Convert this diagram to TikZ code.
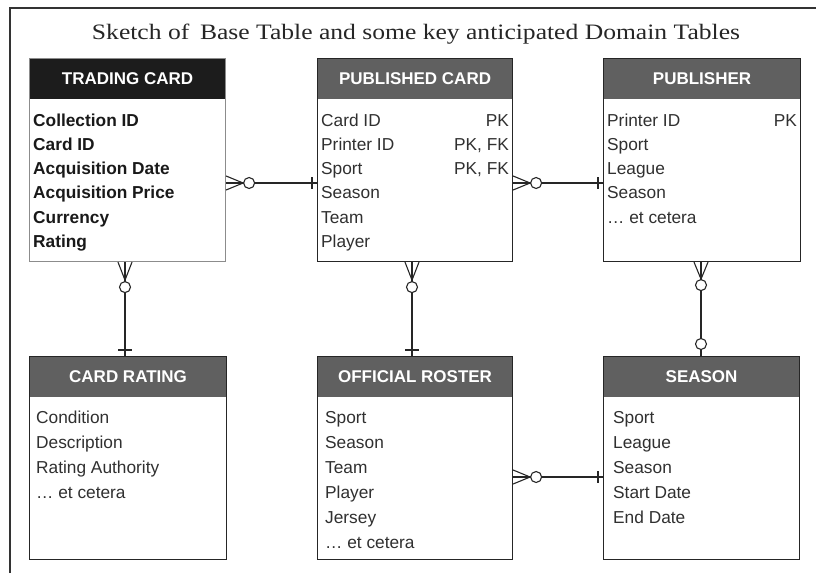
\documentclass[tikz,border=0pt]{standalone}
\usepackage{fontspec}
\usepackage{graphicx}
\setmainfont{Liberation Serif}
\newfontfamily\arialf{Liberation Sans}
\usetikzlibrary{calc}
\definecolor{hdrgray}{HTML}{606060}
\definecolor{hdrblack}{HTML}{1C1C1C}
\definecolor{bodytxt}{HTML}{303030}
\tikzset{
  tbl/.style={draw=black!85, line width=1.1pt, fill=white, inner sep=0pt,
    minimum width=#1, minimum height=203pt, anchor=north west},
  tblhead/.style={path picture={\fill[#1] (path picture bounding box.north west) rectangle ([yshift=-40pt]path picture bounding box.north east);}},
  hdrtext/.style={anchor=base, text=white, font=\arialf\bfseries\fontsize{17}{20}\selectfont, inner sep=0pt},
  rowtext/.style={anchor=base west, text=bodytxt, font=\arialf\fontsize{17.3}{20}\selectfont, inner sep=0pt},
  rowbold/.style={anchor=base west, text=black!90, font=\arialf\bfseries\fontsize{17.3}{20}\selectfont, inner sep=0pt},
  keytext/.style={anchor=base east, text=bodytxt, font=\arialf\fontsize{17.3}{20}\selectfont, inner sep=0pt},
  conn/.style={line width=1.1pt, black!85},
  ring/.style={conn, fill=white}
}
\begin{document}
\begin{tikzpicture}[x=1pt,y=-1pt]
\useasboundingbox (0,0) rectangle (816,573);
% frame
\draw[line width=1.1pt, black!80] (10,573) -- (10,8) -- (816,8);
% title
\node[anchor=base, inner sep=0pt, text=black!85] (title) at (416,39)
  {\resizebox{648pt}{\height}{\fontsize{22}{26}\selectfont Sketch of\, Base Table and some key anticipated Domain Tables}};

% ---------- tables ----------
\node[tbl=196pt, draw=black!45, tblhead=hdrblack] (tc) at (29,58) {};
\node[tbl=195pt, tblhead=hdrgray] (pc) at (317,58) {};
\node[tbl=197pt, tblhead=hdrgray] (pb) at (603,58) {};
\node[tbl=197pt, tblhead=hdrgray] (cr) at (29,356) {};
\node[tbl=195pt, tblhead=hdrgray] (ro) at (317,356) {};
\node[tbl=196pt, tblhead=hdrgray] (se) at (603,356) {};

% headers
\node[hdrtext] (tc-h) at ($(tc.north)+(0,26)$) {TRADING CARD};
\node[hdrtext] (pc-h) at ($(pc.north)+(0,26)$) {PUBLISHED CARD};
\node[hdrtext] (pb-h) at ($(pb.north)+(0,26)$) {PUBLISHER};
\node[hdrtext] (cr-h) at ($(cr.north)+(0,26)$) {CARD RATING};
\node[hdrtext] (ro-h) at ($(ro.north)+(0,26)$) {OFFICIAL ROSTER};
\node[hdrtext] (se-h) at ($(se.north)+(0,26)$) {SEASON};

% body rows
\foreach \t [count=\i] in {Collection ID, Card ID, Acquisition Date, Acquisition Price, Currency, Rating}
  \node[rowbold] (tc-\i) at ($(tc.north west)+(4,68+24.3*\i-24.3)$) {\t};
\foreach \t [count=\i] in {Card ID, Printer ID, Sport, Season, Team, Player}
  \node[rowtext] (pc-\i) at ($(pc.north west)+(4,68+24.3*\i-24.3)$) {\t};
\node[keytext] (pc-k1) at ($(pc.north east)+(-4,68)$) {PK};
\node[keytext] (pc-k2) at ($(pc.north east)+(-4,92.3)$) {PK, FK};
\node[keytext] (pc-k3) at ($(pc.north east)+(-4,116.6)$) {PK, FK};
\foreach \t [count=\i] in {Printer ID, Sport, League, Season, \dots{} et cetera}
  \node[rowtext] (pb-\i) at ($(pb.north west)+(4,68+24.3*\i-24.3)$) {\t};
\node[keytext] (pb-k1) at ($(pb.north east)+(-4,68)$) {PK};
\foreach \t [count=\i] in {Condition, Description, Rating Authority, \dots{} et cetera}
  \node[rowtext] (cr-\i) at ($(cr.north west)+(7,67+25*\i-25)$) {\t};
\foreach \t [count=\i] in {Sport, Season, Team, Player, Jersey, \dots{} et cetera}
  \node[rowtext] (ro-\i) at ($(ro.north west)+(8,67+25*\i-25)$) {\t};
\foreach \t [count=\i] in {Sport, League, Season, Start Date, End Date}
  \node[rowtext] (se-\i) at ($(se.north west)+(10,67+25*\i-25)$) {\t};

% ---------- connectors ----------
% horizontal: many (zero) on left box, one on right box
\foreach \a/\b/\yy in {tc/pc/183, pc/pb/183, ro/se/477} {
  \coordinate (\a-\b-s) at (\a.east |- 0,\yy);
  \coordinate (\a-\b-e) at (\b.west |- 0,\yy);
  \draw[conn] (\a-\b-s) -- (\a-\b-e);
  \draw[conn] ($(\a-\b-s)+(0,-7)$) -- ($(\a-\b-s)+(17,0)$) -- ($(\a-\b-s)+(0,7)$);
  \draw[ring] ($(\a-\b-s)+(23,0)$) circle[radius=5.5pt];
  \draw[conn] ($(\a-\b-e)+(-5,-6)$) -- ($(\a-\b-e)+(-5,6)$);
}
% vertical: many (zero) on upper box, one on lower box
\foreach \a/\b/\xx in {tc/cr/125, pc/ro/412} {
  \coordinate (\a-\b-s) at (\a.south -| \xx,0);
  \coordinate (\a-\b-e) at (\b.north -| \xx,0);
  \draw[conn] (\a-\b-s) -- (\a-\b-e);
  \draw[conn] ($(\a-\b-s)+(-7,0)$) -- ($(\a-\b-s)+(0,18)$) -- ($(\a-\b-s)+(7,0)$);
  \draw[ring] ($(\a-\b-s)+(0,25)$) circle[radius=5.5pt];
  \draw[conn] ($(\a-\b-e)+(-7,-6)$) -- ($(\a-\b-e)+(7,-6)$);
}
% publisher -- season : zero-or-many to zero-or-one
\coordinate (pb-se-s) at (pb.south -| 701,0);
\coordinate (pb-se-e) at (se.north -| 701,0);
\draw[conn] (pb-se-s) -- (pb-se-e);
\draw[conn] ($(pb-se-s)+(-7,0)$) -- ($(pb-se-s)+(0,17)$) -- ($(pb-se-s)+(7,0)$);
\draw[ring] ($(pb-se-s)+(0,23)$) circle[radius=5.5pt];
\draw[ring] ($(pb-se-e)+(0,-12)$) circle[radius=5.5pt];
\end{tikzpicture}
\end{document}
